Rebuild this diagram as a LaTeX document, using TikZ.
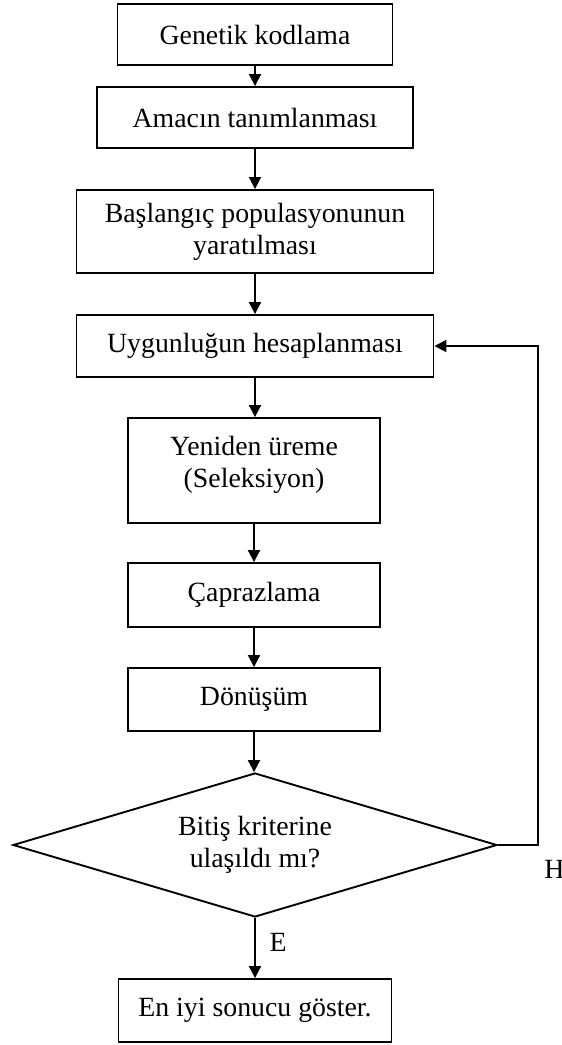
\documentclass[tikz,border=0pt]{standalone}
\usepackage{fontspec}
\setmainfont{Liberation Serif}
\usetikzlibrary{shapes.geometric,arrows.meta}
\begin{document}
\begin{tikzpicture}[x=0.5pt,y=-0.5pt,
  box/.style={draw,line width=0.95pt,inner sep=0pt,align=center,font=\fontsize{13.9}{16}\selectfont},
  txt/.style={inner sep=0pt,align=center,font=\fontsize{13.9}{16}\selectfont},
  arr/.style={line width=0.95pt,-{Triangle[length=6pt,width=6pt]}},
]
\useasboundingbox (0,0) rectangle (562,1045);
\node[box,minimum width=137.5pt,minimum height=30.5pt] (b1) at (255,34.5) {Genetik kodlama};
\node[box,minimum width=158pt,minimum height=30.5pt] (b2) at (255,117.5) {Amacın tanımlanması};
\node[box,minimum width=178.5pt,minimum height=41.5pt] (b3) at (255,231.5) {Başlangıç populasyonunun\\yaratılması};
\node[box,minimum width=178.5pt,minimum height=31pt] (b4) at (255,346) {Uygunluğun hesaplanması};
\node[box,minimum width=126pt,minimum height=52.5pt] (b5) at (254,470.5) {};
\node[txt] (b5t) at (254,465) {Yeniden üreme\\(Seleksiyon)};
\node[box,minimum width=126pt,minimum height=32pt] (b6) at (254,595) {Çaprazlama};
\node[box,minimum width=126pt,minimum height=31.5pt] (b7) at (254,699.5) {Dönüşüm};
\node[box,diamond,aspect=3.36,minimum width=242pt,minimum height=72pt] (d) at (255,845) {Bitiş kriterine\\ulaşıldı mı?};
\node[box,minimum width=136.5pt,minimum height=31.5pt] (b9) at (255,1010.5) {En iyi sonucu göster.};
\draw[arr] (b1.south) -- (b2.north);
\draw[arr] (b2.south) -- (b3.north);
\draw[arr] (b3.south) -- (b4.north);
\draw[arr] (b4.south) -- (b4.south |- b5.north);
\draw[arr] (b5.south) -- (b6.north);
\draw[arr] (b6.south) -- (b7.north);
\draw[arr] (b7.south) -- (b7.south |- d.north);
\draw[arr] (d.south) -- (b9.north);
\coordinate (lp) at (538,845);
\draw[arr] (d.east) -- (lp) |- (b4.east);
\node[txt] (lE) at (278,942) {E};
\node[txt,anchor=west] (lH) at (544,869) {H};
\end{tikzpicture}
\end{document}
